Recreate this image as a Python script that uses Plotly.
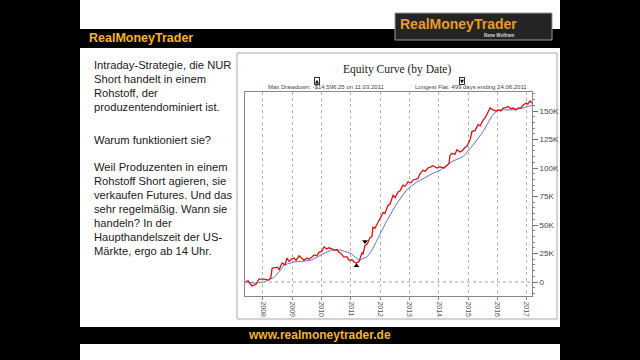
import plotly.graph_objects as go

# ---------------- data ----------------
eq_year = [2007.39, 2007.49, 2007.62, 2007.76, 2007.86, 2008.03, 2008.20, 2008.27, 2008.31, 2008.48,
           2008.55, 2008.65, 2008.75, 2008.82, 2008.89, 2008.96, 2009.06, 2009.13, 2009.23, 2009.33,
           2009.40, 2009.50, 2009.57, 2009.67, 2009.74, 2009.84, 2009.91, 2010.01, 2010.08, 2010.18,
           2010.25, 2010.35, 2010.42, 2010.53, 2010.59, 2010.66, 2010.76, 2010.87, 2010.94, 2011.04,
           2011.11, 2011.19, 2011.28, 2011.38, 2011.41, 2011.48, 2011.55, 2011.65, 2011.72, 2011.75,
           2011.82, 2011.92, 2011.99, 2012.10, 2012.16, 2012.27, 2012.33, 2012.44, 2012.51, 2012.61,
           2012.68, 2012.78, 2012.85, 2012.95, 2013.05, 2013.12, 2013.22, 2013.29, 2013.36, 2013.46,
           2013.53, 2013.63, 2013.73, 2013.80, 2013.94, 2014.04, 2014.18, 2014.28, 2014.35, 2014.38,
           2014.45, 2014.55, 2014.62, 2014.72, 2014.79, 2014.89, 2014.96, 2015.07, 2015.13, 2015.24,
           2015.34, 2015.41, 2015.51, 2015.58, 2015.65, 2015.75, 2015.85, 2015.95, 2016.02, 2016.12,
           2016.19, 2016.29, 2016.36, 2016.46, 2016.53, 2016.63, 2016.70, 2016.81, 2016.87, 2016.98,
           2017.04, 2017.11, 2017.18]
eq_value = [0, 1000, -3500, -2000, 2600, 2500, 1700, 4000, 12000, 13000,
            11000, 16700, 15000, 21000, 18000, 20000, 21000, 19000, 23000, 21000,
            19000, 21000, 20000, 22000, 23700, 23000, 26000, 27000, 30700, 29000,
            30000, 29000, 28000, 28500, 26000, 25000, 22000, 22000, 19000, 19500,
            17500, 16700, 18000, 26000, 24000, 32000, 33000, 38600, 40000, 48000,
            47000, 52000, 55000, 61000, 60000, 67500, 68000, 76000, 74000, 79000,
            80000, 85000, 84000, 88000, 87000, 89500, 90000, 91000, 95000, 98000,
            97000, 100000, 101000, 102000, 100000, 101000, 100000, 102600, 104000, 111000,
            113000, 112000, 116000, 114000, 115000, 118000, 119000, 125000, 132000, 133000,
            138000, 137000, 142000, 144000, 148000, 152600, 151000, 150000, 151000, 150000,
            152600, 153000, 154000, 152000, 152600, 151000, 152600, 153000, 155000, 157000,
            156000, 158800, 157000]

ma_year = [2007.39, 2007.73, 2008.03, 2008.38, 2008.55, 2008.72, 2009.06, 2009.40, 2009.64, 2009.98,
           2010.32, 2010.66, 2011.00, 2011.28, 2011.55, 2011.72, 2011.89, 2012.23, 2012.57, 2012.91,
           2013.26, 2013.36, 2013.70, 2014.04, 2014.48, 2014.83, 2015.17, 2015.51, 2015.82, 2016.02,
           2016.53, 2016.87, 2017.18]
ma_value = [0, -1000, 0, 4000, 9000, 15000, 17500, 18000, 19000, 23700,
            28000, 28000, 25000, 19000, 22000, 28000, 37000, 54000, 69000, 81000,
            88000, 89000, 94000, 98000, 106000, 110000, 120000, 132000, 146000, 151000,
            151000, 152600, 155000]

dd_year, dd_value = 2011.19, 16700      # max drawdown marker
flat_year, flat_value = 2011.48, 33000  # end of longest flat

year_ticks = list(range(2008, 2018))
year_labels = [str(y) for y in year_ticks]
y_ticks = [0, 25000, 50000, 75000, 100000, 125000, 150000]
y_labels = ["0", "25K", "50K", "75K", "100K", "125K", "150K"]

text_lines = [
    (65, "Intraday-Strategie, die NUR"),
    (79, "Short handelt in einem"),
    (93, "Rohstoff, der"),
    (107, "produzentendominiert ist."),
    (140, "Warum funktioniert sie?"),
    (167, "Weil Produzenten in einem"),
    (181, "Rohstoff Short agieren, sie"),
    (195, "verkaufen Futures. Und das"),
    (209, "sehr regelmäßig. Wann sie"),
    (223, "handeln? In der"),
    (237, "Haupthandelszeit der US-"),
    (251, "Märkte, ergo ab 14 Uhr."),
]

# ---------------- layout helpers (pixel -> paper) ----------------
W, H = 640, 360
L, R, T, B = 245, 532, 92, 296


def px(x):
    return (x - L) / (R - L)


def py(y):
    return (B - y) / (B - T)


GOLD = "#F2B431"

fig = go.Figure()
fig.add_trace(go.Scatter(x=ma_year, y=ma_value, mode="lines",
                         line=dict(color="#6474E0", width=1), hoverinfo="skip"))
fig.add_trace(go.Scatter(x=eq_year, y=eq_value, mode="lines",
                         line=dict(color="#E01010", width=1.3), hoverinfo="skip"))
fig.add_trace(go.Scatter(x=[dd_year], y=[dd_value - 2500], mode="markers",
                         marker=dict(symbol="triangle-up", size=5, color="black")))
fig.add_trace(go.Scatter(x=[flat_year], y=[flat_value + 2500], mode="markers",
                         marker=dict(symbol="triangle-down", size=5, color="black")))

shapes = []
# slide background (white panels on black)
for (x0, y0, x1, y1) in [(80, 0, 560, 29), (80, 48, 560, 327), (80, 344, 560, 360)]:
    shapes.append(dict(type="rect", xref="paper", yref="paper", x0=px(x0), x1=px(x1),
                       y0=py(y1), y1=py(y0), fillcolor="white", line=dict(width=0), layer="below"))
# chart outer frame
shapes.append(dict(type="rect", xref="paper", yref="paper", x0=px(237), x1=px(557),
                   y0=py(319), y1=py(53), line=dict(color="#A8A8A8", width=1), layer="below"))
# logo box
shapes.append(dict(type="rect", xref="paper", yref="paper", x0=px(395), x1=px(552),
                   y0=py(40), y1=py(13), fillcolor="#242424",
                   line=dict(color="#9a9a9a", width=1), layer="below"))
# zero line dotted
shapes.append(dict(type="line", xref="paper", yref="y", x0=0, x1=1, y0=0, y1=0,
                   line=dict(color="#A0A0A0", width=1, dash="dot")))

ann = []
for (y, t) in text_lines:
    ann.append(dict(x=px(92), y=py(y), xref="paper", yref="paper", text=t, showarrow=False,
                    xanchor="left", yanchor="middle",
                    font=dict(family="Liberation Sans", size=11.2, color="#1a1a1a")))
ann.append(dict(x=px(87), y=py(38), xref="paper", yref="paper", text="<b>RealMoneyTrader</b>",
                showarrow=False, xanchor="left", yanchor="middle",
                font=dict(family="Liberation Sans", size=12.5, color=GOLD)))
ann.append(dict(x=px(246), y=py(335), xref="paper", yref="paper", text="<b>www.realmoneytrader.de</b>",
                showarrow=False, xanchor="left", yanchor="middle",
                font=dict(family="Liberation Sans", size=12, color=GOLD)))
ann.append(dict(x=px(398), y=py(24), xref="paper", yref="paper", text="<b>RealMoneyTrader</b>",
                showarrow=False, xanchor="left", yanchor="middle",
                font=dict(family="Liberation Sans", size=14, color="#E89A2C")))
ann.append(dict(x=px(516), y=py(35.5), xref="paper", yref="paper", text="<b>Rene Wolfram</b>",
                showarrow=False, xanchor="right", yanchor="middle",
                font=dict(family="Liberation Sans", size=4.5, color="#dddddd")))
ann.append(dict(x=px(397), y=py(70), xref="paper", yref="paper", text="Equity Curve (by Date)",
                showarrow=False, xanchor="center", yanchor="middle",
                font=dict(family="Liberation Serif", size=11.5, color="#222222")))
ann.append(dict(x=px(266), y=py(87), xref="paper", yref="paper",
                text="Max Drawdown: -$14,596.25 on 11.03.2011",
                showarrow=False, xanchor="left", yanchor="middle",
                font=dict(family="Liberation Sans", size=6, color="#444444")))
ann.append(dict(x=px(413), y=py(87), xref="paper", yref="paper",
                text="Longest Flat: 499 days ending 24.06.2011",
                showarrow=False, xanchor="left", yanchor="middle",
                font=dict(family="Liberation Sans", size=6, color="#444444")))
for (x, sym) in [(317, "▲"), (462, "▼")]:
    ann.append(dict(x=px(x), y=py(81), xref="paper", yref="paper", text=sym,
                    showarrow=False, xanchor="center", yanchor="middle",
                    bordercolor="#333333", borderwidth=1, borderpad=0, bgcolor="white",
                    font=dict(family="DejaVu Sans", size=5, color="black")))

fig.update_layout(
    width=W, height=H,
    margin=dict(l=L, r=W - R, t=T, b=H - B, pad=0, autoexpand=False),
    paper_bgcolor="black", plot_bgcolor="white",
    showlegend=False,
    shapes=shapes, annotations=ann,
    xaxis=dict(range=[2007.386, 2017.18], tickvals=year_ticks, ticktext=year_labels,
               tickangle=90, tickfont=dict(family="Liberation Sans", size=7, color="#555555"),
               showgrid=True, gridcolor="#B4B4B4", griddash="dot", gridwidth=1,
               showline=True, linecolor="#888888", linewidth=1, mirror=True,
               ticks="outside", ticklen=3, tickcolor="#888888", zeroline=False),
    yaxis=dict(range=[-12281, 166667], side="right", tickvals=y_ticks, ticktext=y_labels,
               tickfont=dict(family="Liberation Sans", size=8, color="#444444"),
               showgrid=False, showline=True, linecolor="#888888", linewidth=1, mirror=True,
               ticks="outside", ticklen=5, tickcolor="#777777", zeroline=False,
               minor=dict(dtick=5000, ticks="outside", ticklen=2, tickcolor="#888888", showgrid=False)),
)

fig.write_html("out.html")
